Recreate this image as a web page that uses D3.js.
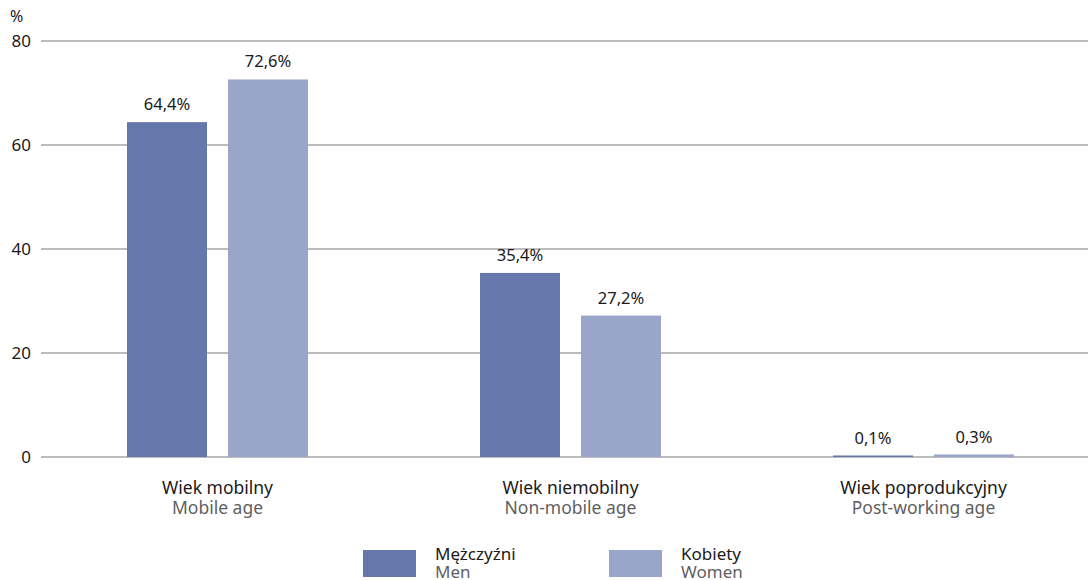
<!DOCTYPE html>
<html><head><meta charset="utf-8">
<script src="https://cdn.jsdelivr.net/npm/d3@7"></script>
<style>body{margin:0;background:#fff}svg{display:block;font-family:"Noto Sans","Open Sans",sans-serif}</style>
</head><body><svg id="c" width="1088" height="580"></svg>
<script>
const categoriesPl = ["Wiek mobilny", "Wiek niemobilny", "Wiek poprodukcyjny"];
const categoriesEn = ["Mobile age", "Non-mobile age", "Post-working age"];
const seriesNamesPl = ["Mężczyźni", "Kobiety"];
const seriesNamesEn = ["Men", "Women"];
const men = [64.4, 35.4, 0.1];
const women = [72.6, 27.2, 0.3];
const yTicks = [0, 20, 40, 60, 80];
const colors = ["#6677ab", "#9aa6c9"];

const svg = d3.select("#c");
const x = d3.scaleBand().domain(categoriesPl).range([41, 1100]).paddingInner(0).paddingOuter(0);
const y = d3.scaleLinear().domain([0, 80]).range([457, 41]);
const series = [men, women];
const xs = d3.scaleBand().domain([0, 1]).range([-90.5, 90.5]).paddingInner(0.208);

// grid
svg.append("g").selectAll("line").data(yTicks).join("line")
  .attr("x1", 41).attr("x2", 1088).attr("y1", d => y(d)).attr("y2", d => y(d))
  .attr("stroke", "#a6a6a6").attr("stroke-width", 1.5);
svg.append("g").selectAll("text").data(yTicks).join("text")
  .attr("x", 31).attr("y", d => y(d) + 6).attr("text-anchor", "end")
  .attr("font-size", 17).attr("fill", "#1a1a1a").text(d => d);
svg.append("text").attr("x", 10).attr("y", 22).attr("font-size", 16).attr("fill", "#1a1a1a").text("%");

// bars
series.forEach((vals, si) => {
  const g = svg.append("g");
  g.selectAll("rect").data(vals).join("rect")
    .attr("x", (d, i) => x(categoriesPl[i]) + x.bandwidth() / 2 + xs(si))
    .attr("width", xs.bandwidth())
    .attr("y", d => y(d) - (d < 1 ? 1 : 0))
    .attr("height", d => y(0) - y(d) + (d < 1 ? 1 : 0))
    .attr("fill", colors[si]);
  g.selectAll("text").data(vals).join("text")
    .attr("x", (d, i) => x(categoriesPl[i]) + x.bandwidth() / 2 + xs(si) + xs.bandwidth() / 2)
    .attr("y", d => y(d) - 12)
    .attr("text-anchor", "middle").attr("font-size", 16.5).attr("fill", "#1a1a1a")
    .text(d => d3.format(".1f")(d).replace(".", ",") + "%");
});

// category labels
const cg = svg.append("g");
cg.selectAll("text.pl").data(categoriesPl).join("text").attr("class", "pl")
  .attr("x", d => x(d) + x.bandwidth() / 2).attr("y", 494)
  .attr("text-anchor", "middle").attr("font-size", 17.5).attr("fill", "#1a1a1a").text(d => d);
cg.selectAll("text.en").data(categoriesEn).join("text").attr("class", "en")
  .attr("x", (d, i) => x(categoriesPl[i]) + x.bandwidth() / 2).attr("y", 514)
  .attr("text-anchor", "middle").attr("font-size", 17.5).attr("fill", "#5f5f5f").text(d => d);

// legend
const lx = [363, 609];
seriesNamesPl.forEach((n, i) => {
  svg.append("rect").attr("x", lx[i]).attr("y", 550).attr("width", 53).attr("height", 27).attr("fill", colors[i]);
  svg.append("text").attr("x", lx[i] + 72).attr("y", 560).attr("font-size", 17).attr("fill", "#1a1a1a").text(n);
  svg.append("text").attr("x", lx[i] + 72).attr("y", 578).attr("font-size", 17).attr("fill", "#5f5f5f").text(seriesNamesEn[i]);
});
</script></body></html>
